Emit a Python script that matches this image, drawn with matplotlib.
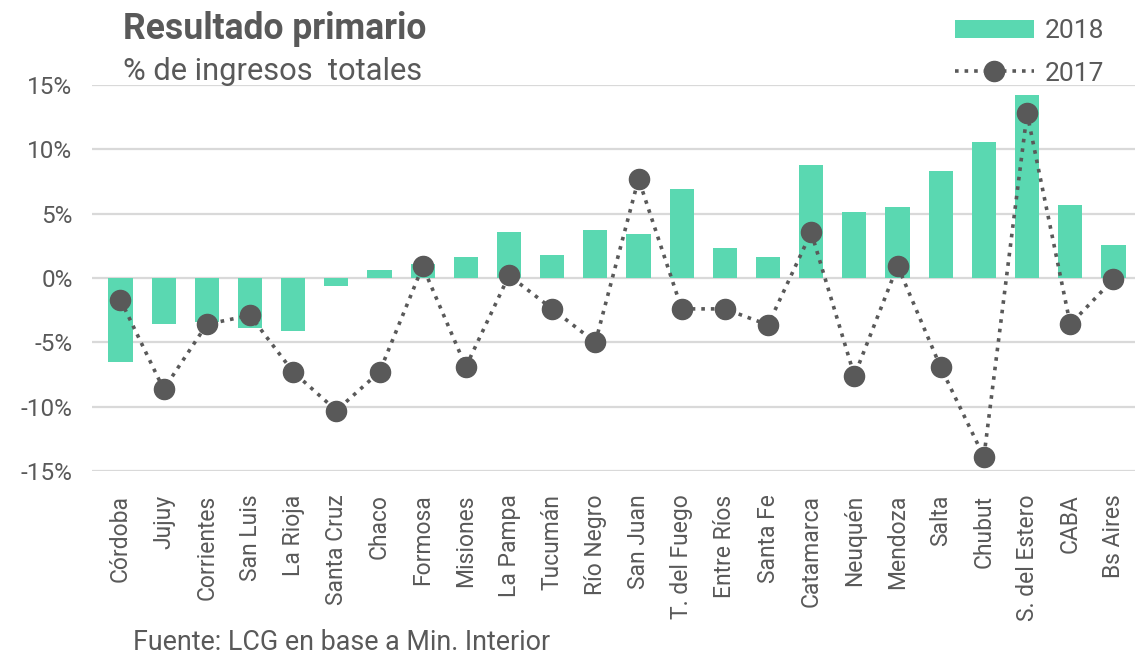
import matplotlib.pyplot as plt
import numpy as np
from matplotlib.ticker import FuncFormatter

plt.rcParams['font.family'] = ['Roboto', 'DejaVu Sans']

provincias = ['Córdoba', 'Jujuy', 'Corrientes', 'San Luis', 'La Rioja', 'Santa Cruz',
              'Chaco', 'Formosa', 'Misiones', 'La Pampa', 'Tucumán', 'Río Negro',
              'San Juan', 'T. del Fuego', 'Entre Ríos', 'Santa Fe', 'Catamarca',
              'Neuquén', 'Mendoza', 'Salta', 'Chubut', 'S. del Estero', 'CABA', 'Bs Aires']

# resultado primario, % de ingresos totales
res_2018 = [-6.5, -3.55, -3.4, -3.9, -4.1, -0.6, 0.6, 1.1, 1.6, 3.6, 1.8, 3.7,
            3.4, 6.9, 2.35, 1.65, 8.8, 5.1, 5.5, 8.3, 10.55, 14.2, 5.65, 2.55]
res_2017 = [-1.7, -8.65, -3.6, -2.9, -7.3, -10.3, -7.3, 0.9, -6.9, 0.2, -2.4, -5.0,
            7.7, -2.4, -2.4, -3.65, 3.55, -7.6, 0.95, -6.95, -13.9, 12.8, -3.6, -0.1]

verde = '#5ad8b1'
gris = '#595959'

fig = plt.figure(figsize=(11.35, 6.56), dpi=100)
ax = fig.add_axes([92 / 1135, (656 - 471) / 656, 1 - 92 / 1135, 386 / 656])

x = np.arange(len(provincias))
barras = ax.bar(x, res_2018, width=0.56, color=verde, label='2018', zorder=2)
linea, = ax.plot(x, res_2017, linestyle=':', linewidth=2.6, color=gris, marker='o',
                 markersize=14.5, label='2017', zorder=3)

ax.set_xlim(-0.66, 23.5)
ax.set_ylim(-15, 15)
ax.set_yticks(np.arange(-15, 16, 5))
ax.yaxis.set_major_formatter(FuncFormatter(lambda v, p: f'{v:.0f}%'))
ax.grid(axis='y', color='#d9d9d9', linewidth=1.6, zorder=0)
ax.set_axisbelow(True)
for s in ax.spines.values():
    s.set_visible(False)

ax.set_xticks(x)
ax.set_xticklabels(provincias, rotation=90, fontsize=16.5, color=gris)
ax.tick_params(axis='x', length=0, pad=17)
ax.tick_params(axis='y', length=0, labelsize=17.5, labelcolor=gris, pad=14)

# titulos
fig.text(123 / 1135, 1 - 29 / 656, 'Resultado primario', fontsize=25.6, fontweight='bold',
         color=gris, va='center', ha='left')
fig.text(123 / 1135, 1 - 71 / 656, '% de ingresos  totales', fontsize=22.2,
         color=gris, va='center', ha='left')
fig.text(133 / 1135, 1 - 642 / 656, 'Fuente: LCG en base a Min. Interior', fontsize=19.4,
         color=gris, va='center', ha='left')

fig.legend([barras, linea], ['2018', '2017'], loc='upper right',
           bbox_to_anchor=(1 - 14 / 1135, 1 - 2 / 656), frameon=False, fontsize=19,
           labelcolor=gris, handlelength=3.0, handletextpad=0.4, labelspacing=0.7,
           borderaxespad=0.25)

plt.savefig('out.png', dpi=100)
